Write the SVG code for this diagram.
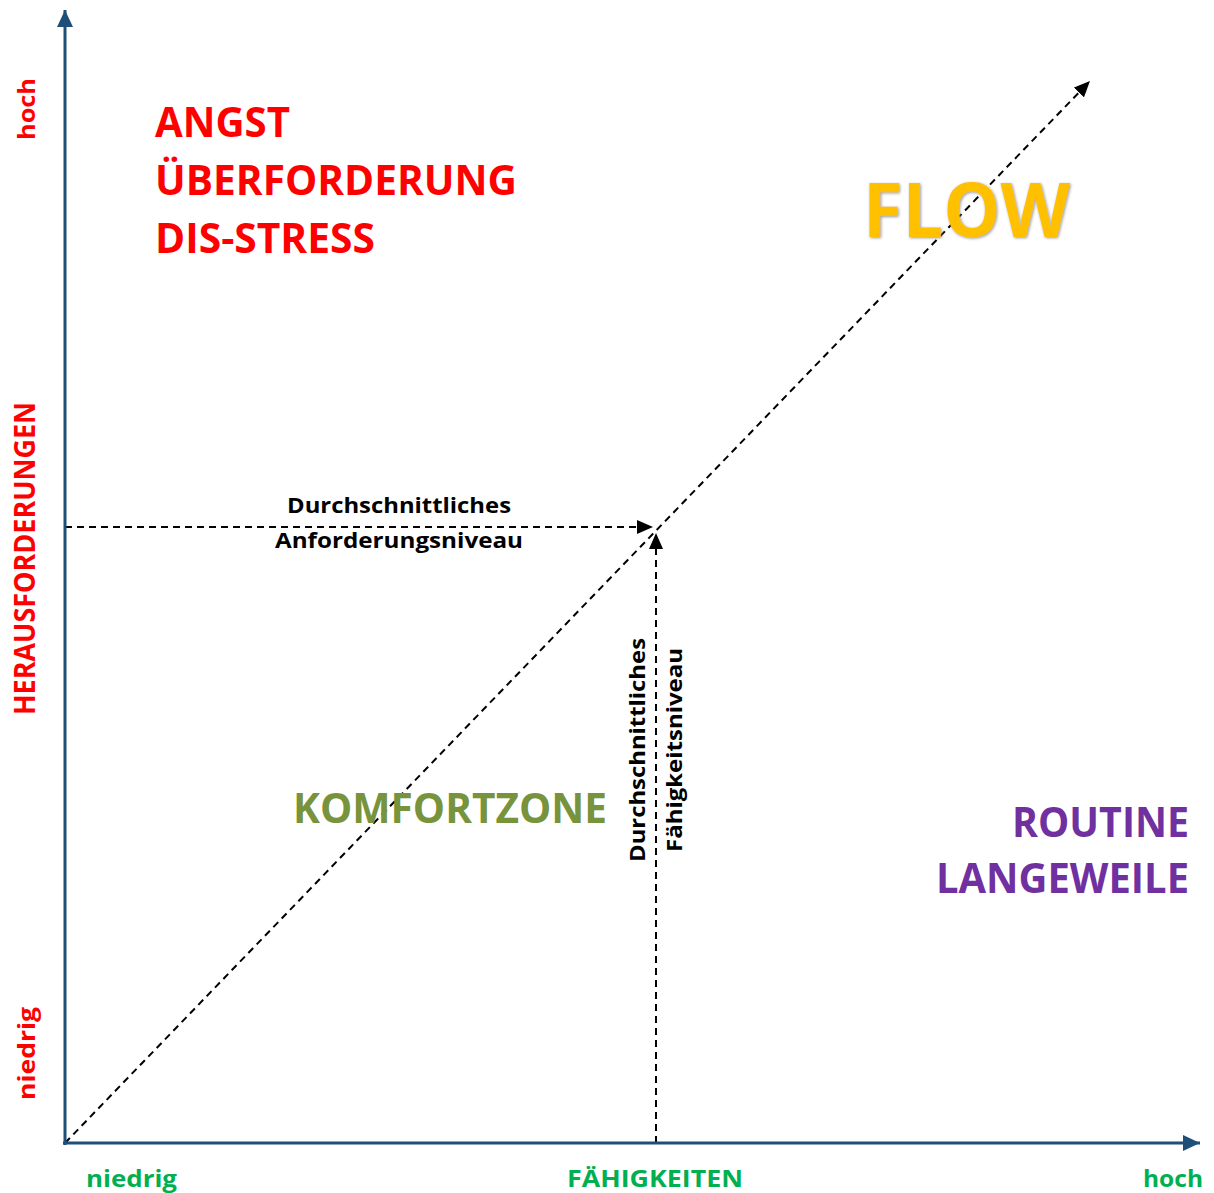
<svg xmlns="http://www.w3.org/2000/svg" width="1214" height="1193" viewBox="0 0 1214 1193">
<style>
text{font-family:"Open Sans","Noto Sans","Liberation Sans",sans-serif;font-weight:bold}
.red{fill:#FF0000}
.grn{fill:#00B050}
.blk{fill:#000}
.axis{stroke:#1F4E79;stroke-width:3;fill:none}
.dash{stroke:#000;stroke-width:2;stroke-dasharray:7 5;fill:none}
</style>
<defs>
<marker id="axh" markerWidth="18" markerHeight="18" refX="17" refY="8" orient="auto" markerUnits="userSpaceOnUse" viewBox="0 0 18 16">
<path d="M0,0 L17,8 L0,16 Z" fill="#1F4E79"/>
</marker>
<marker id="dh" markerWidth="16" markerHeight="14" refX="16" refY="7" orient="auto" markerUnits="userSpaceOnUse" viewBox="0 0 16 14">
<path d="M0,0 L16,7 L0,14 Z" fill="#000"/>
</marker>
<filter id="sh" x="-10%" y="-10%" width="130%" height="130%">
<feGaussianBlur in="SourceAlpha" stdDeviation="1.5" result="b"/>
<feOffset dx="1" dy="1" in="b" result="o"/>
<feFlood flood-color="#808080" flood-opacity="0.8"/>
<feComposite in2="o" operator="in" result="s"/>
<feMerge><feMergeNode in="s"/><feMergeNode in="SourceGraphic"/></feMerge>
</filter>
</defs>
<rect width="1214" height="1193" fill="#fff"/>
<g id="connectors">
<line class="dash" x1="65" y1="1143" x2="1090" y2="81" marker-end="url(#dh)"/>
<line class="dash" x1="65" y1="527" x2="653" y2="527" marker-end="url(#dh)"/>
<line class="dash" x1="656" y1="1143" x2="656" y2="533" marker-end="url(#dh)"/>
<line class="axis" x1="65" y1="1145" x2="65" y2="10" marker-end="url(#axh)"/>
<line class="axis" x1="63" y1="1143" x2="1200" y2="1143" marker-end="url(#axh)"/>
</g>
<g id="y-axis-labels">
<text class="red" font-size="24" transform="translate(35,140) rotate(-90)" textLength="62" lengthAdjust="spacingAndGlyphs">hoch</text>
<text class="red" font-size="28" transform="translate(35,715) rotate(-90)" textLength="313" lengthAdjust="spacingAndGlyphs">HERAUSFORDERUNGEN</text>
<text class="red" font-size="24" transform="translate(35,1100) rotate(-90)" textLength="93" lengthAdjust="spacingAndGlyphs">niedrig</text>
</g>
<g id="x-axis-labels">
<text class="grn" font-size="24" x="86" y="1187" textLength="91" lengthAdjust="spacingAndGlyphs">niedrig</text>
<text class="grn" font-size="23" x="567" y="1187" textLength="176" lengthAdjust="spacingAndGlyphs">FÄHIGKEITEN</text>
<text class="grn" font-size="24" x="1143" y="1187" textLength="60" lengthAdjust="spacingAndGlyphs">hoch</text>
</g>
<g id="angst">
<text class="red" font-size="42" x="155" y="137" textLength="135" lengthAdjust="spacingAndGlyphs">ANGST</text>
<text class="red" font-size="42" x="155" y="195" textLength="362" lengthAdjust="spacingAndGlyphs">ÜBERFORDERUNG</text>
<text class="red" font-size="42" x="155" y="253" textLength="220" lengthAdjust="spacingAndGlyphs">DIS-STRESS</text>
</g>
<g id="flow">
<text font-size="76" x="863" y="237" fill="#FFC000" filter="url(#sh)" textLength="207" lengthAdjust="spacingAndGlyphs">FLOW</text>
</g>
<g id="komfortzone">
<text font-size="42" x="293" y="823" fill="#77933C" textLength="314" lengthAdjust="spacingAndGlyphs">KOMFORTZONE</text>
</g>
<g id="routine">
<text font-size="41" x="1012" y="837" fill="#7030A0" textLength="177" lengthAdjust="spacingAndGlyphs">ROUTINE</text>
<text font-size="41" x="936" y="893" fill="#7030A0" textLength="253" lengthAdjust="spacingAndGlyphs">LANGEWEILE</text>
</g>
<g id="anforderungsniveau">
<text class="blk" font-size="22" x="287" y="513" textLength="224" lengthAdjust="spacingAndGlyphs">Durchschnittliches</text>
<text class="blk" font-size="22" x="275" y="548" textLength="248" lengthAdjust="spacingAndGlyphs">Anforderungsniveau</text>
</g>
<g id="faehigkeitsniveau">
<text class="blk" font-size="22" transform="translate(645,862) rotate(-90)" textLength="224" lengthAdjust="spacingAndGlyphs">Durchschnittliches</text>
<text class="blk" font-size="22" transform="translate(682,852) rotate(-90)" textLength="204" lengthAdjust="spacingAndGlyphs">Fähigkeitsniveau</text>
</g>
</svg>
